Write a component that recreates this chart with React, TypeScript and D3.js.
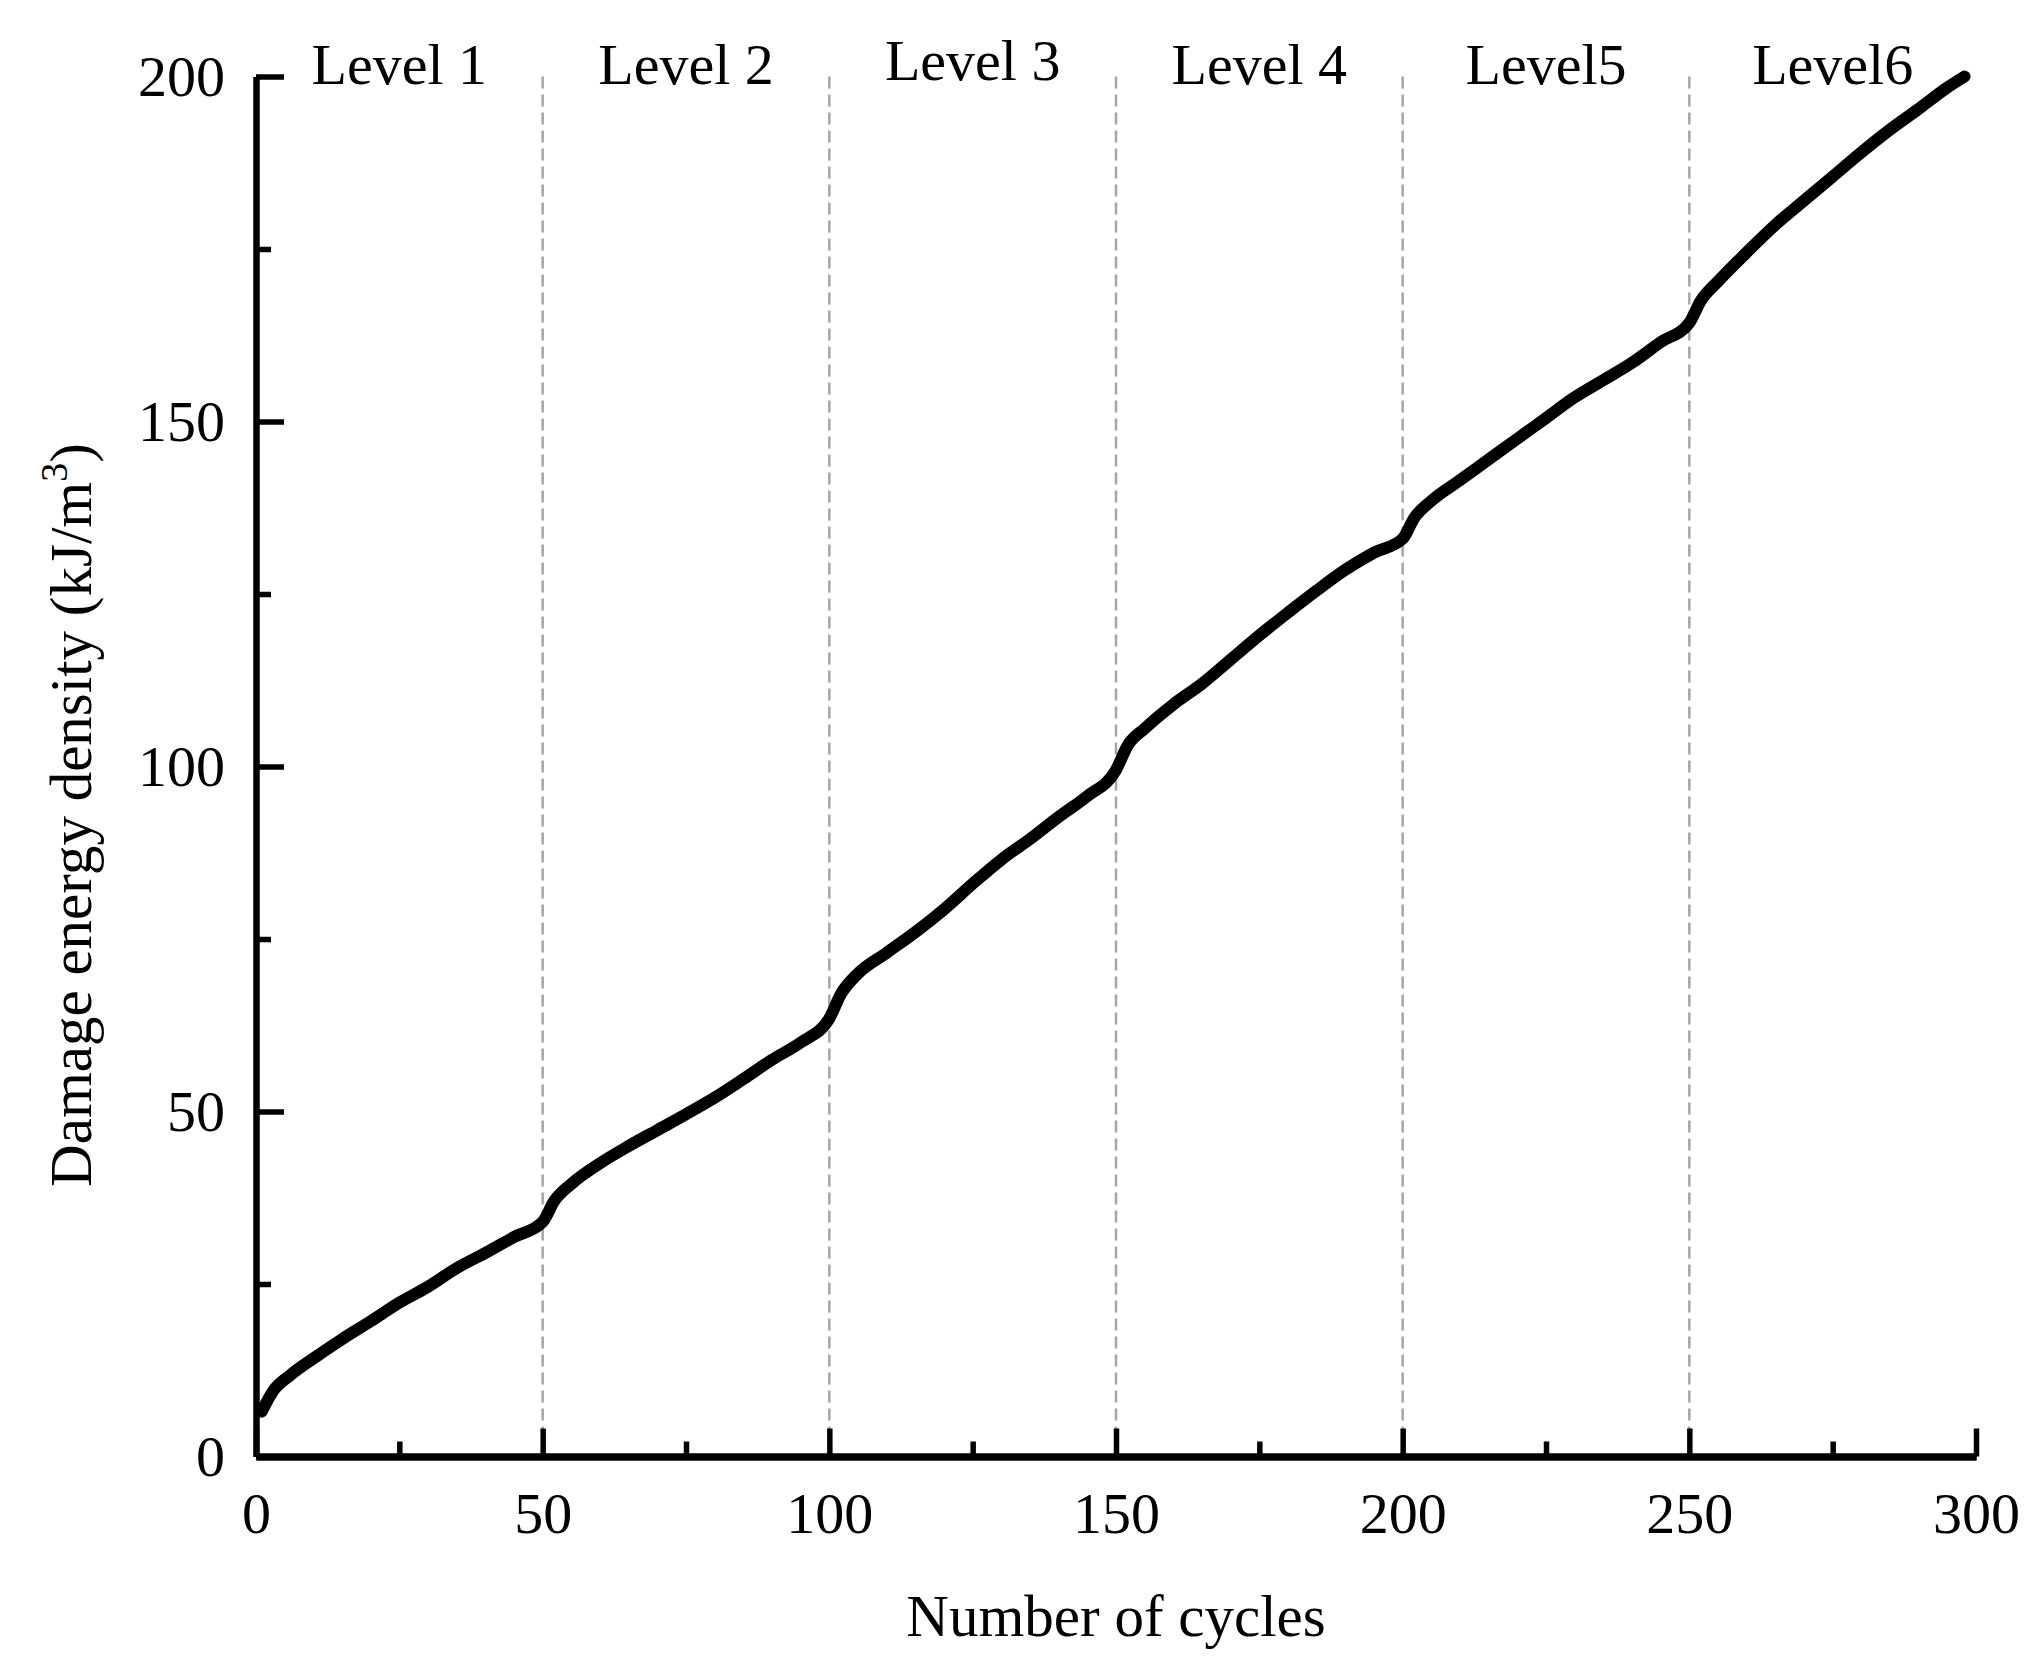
import * as d3 from "d3";
import React, { useEffect, useRef } from "react";

// cycles vs damage energy density
const cycles = [
  1, 3, 6, 10, 15, 20, 25, 30, 35, 40, 45, 50,
  52, 55, 60, 65, 70, 75, 80, 85, 90, 95, 100,
  102, 105, 110, 115, 120, 125, 130, 135, 140, 145, 150,
  152, 155, 160, 165, 170, 175, 180, 185, 190, 195, 200,
  202, 205, 210, 215, 220, 225, 230, 235, 240, 245, 250,
  252, 255, 260, 265, 270, 275, 280, 285, 290, 295, 298,
];
const energy = [
  6.5, 9.5, 11.8, 14.2, 17, 19.6, 22.3, 24.6, 27.3, 29.5, 31.8, 34,
  37, 39.5, 42.5, 45, 47.3, 49.6, 52, 54.7, 57.5, 60, 63.5,
  67, 70, 73, 76, 79.3, 83, 86.5, 89.5, 92.7, 95.7, 99.5,
  103, 105.5, 109, 112, 115.5, 119, 122.3, 125.5, 128.5, 131, 133,
  136, 138.5, 141.5, 144.5, 147.5, 150.5, 153.5, 156, 158.5, 161.5, 164.3,
  167.5, 170.3, 174.5, 178.5, 182, 185.5, 189, 192.3, 195.3, 198.4, 200,
];

const levelNames = ["Level 1", "Level 2", "Level 3", "Level 4", "Level5", "Level6"];
const levelBounds = [0, 50, 100, 150, 200, 250, 300];
const xTicks = [0, 50, 100, 150, 200, 250, 300];
const xMinor = [25, 75, 125, 175, 225, 275];
const yTicks = [0, 50, 100, 150, 200];
const yMinor = [25, 75, 125, 175];

const W = 2043;
const H = 1672;
const FONT = "'Liberation Serif', 'Times New Roman', serif";

const App: React.FC = () => {
  const ref = useRef<SVGSVGElement | null>(null);

  useEffect(() => {
    if (!ref.current) return;
    const svg = d3.select(ref.current);
    svg.selectAll("*").remove();

    const x = d3.scaleLinear().domain([0, 300]).range([256, 1976]);
    const y = d3.scaleLinear().domain([0, 200]).range([1456.5, 76.5]);

    svg.append("rect").attr("width", W).attr("height", H).attr("fill", "#fff");

    // level separators
    svg
      .append("g")
      .selectAll("line")
      .data(levelBounds.slice(1, -1))
      .enter()
      .append("line")
      .attr("x1", (d) => x(d))
      .attr("x2", (d) => x(d))
      .attr("y1", y(200))
      .attr("y2", y(0))
      .attr("stroke", "#a6a6a6")
      .attr("stroke-width", 2.5)
      .attr("stroke-dasharray", "12 6");

    // level labels
    svg
      .append("g")
      .selectAll("text")
      .data(levelNames)
      .enter()
      .append("text")
      .attr("x", (_d, i) => x((levelBounds[i] + levelBounds[i + 1]) / 2))
      .attr("y", (_d, i) => (i === 2 ? 80 : 84))
      .attr("text-anchor", "middle")
      .attr("font-family", FONT)
      .attr("font-size", 58)
      .text((d) => d);

    // curve
    const pts = cycles.map((c, i) => [c, energy[i]] as [number, number]);
    const line = d3
      .line<[number, number]>()
      .x((d) => x(d[0]))
      .y((d) => y(d[1]))
      .curve(d3.curveMonotoneX);
    svg
      .append("path")
      .datum(pts)
      .attr("d", line)
      .attr("fill", "none")
      .attr("stroke", "#000")
      .attr("stroke-width", 12)
      .attr("stroke-linejoin", "round")
      .attr("stroke-linecap", "round");

    // x axis
    const gx = svg.append("g").attr("transform", `translate(0,${y(0)})`);
    gx.call(
      d3.axisBottom(x).tickValues(xTicks).tickSizeInner(-28).tickSizeOuter(0).tickPadding(0)
    );
    gx.append("g").call(
      d3.axisBottom(x).tickValues(xMinor).tickSizeInner(-15).tickSizeOuter(0).tickFormat(() => "")
    );
    gx.selectAll(".domain").attr("stroke-width", 7).attr("stroke", "#000");
    gx.selectAll(".tick line").attr("stroke-width", 5.5).attr("stroke", "#000");
    gx.selectAll(".tick text")
      .attr("font-family", FONT)
      .attr("font-size", 58)
      .attr("fill", "#000")
      .attr("dy", null)
      .attr("y", 76);

    // y axis
    const gy = svg.append("g").attr("transform", `translate(${x(0)},0)`);
    gy.call(
      d3.axisLeft(y).tickValues(yTicks).tickSizeInner(-28).tickSizeOuter(0).tickPadding(0)
    );
    gy.append("g").call(
      d3.axisLeft(y).tickValues(yMinor).tickSizeInner(-15).tickSizeOuter(0).tickFormat(() => "")
    );
    gy.selectAll(".domain").attr("stroke-width", 6).attr("stroke", "#000");
    gy.selectAll(".tick line").attr("stroke-width", 5.5).attr("stroke", "#000");
    gy.selectAll(".tick text")
      .attr("font-family", FONT)
      .attr("font-size", 58)
      .attr("fill", "#000")
      .attr("x", -31);

    // axis titles
    svg
      .append("text")
      .attr("x", (x(0) + x(300)) / 2)
      .attr("y", 1636)
      .attr("text-anchor", "middle")
      .attr("font-family", FONT)
      .attr("font-size", 59)
      .text("Number of cycles");

    const yt = svg
      .append("text")
      .attr("transform", `translate(91,815) rotate(-90)`)
      .attr("text-anchor", "middle")
      .attr("font-family", FONT)
      .attr("font-size", 59);
    yt.append("tspan").text("Damage energy density (kJ/m");
    yt.append("tspan").attr("font-size", 38).attr("dy", -24).text("3");
    yt.append("tspan").attr("dy", 24).text(")");
  }, []);

  return (
    <svg
      ref={ref}
      width={W}
      height={H}
      style={{ position: "absolute", left: 0, top: 0 }}
    />
  );
};

export default App;
